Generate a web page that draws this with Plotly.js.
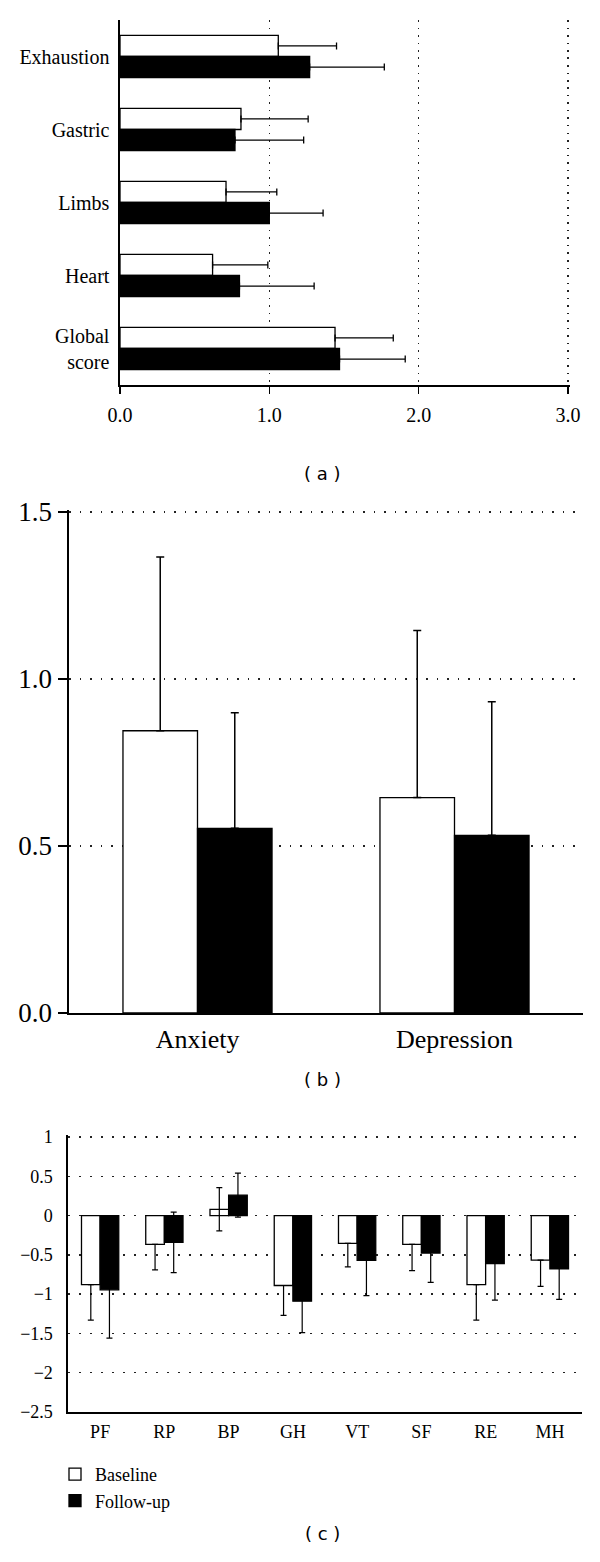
<!DOCTYPE html>
<html><head><meta charset="utf-8">
<script src="https://cdn.plot.ly/plotly-3.0.1.min.js"></script>
<style>html,body{margin:0;padding:0;background:#fff}</style>
</head><body><div id="chart" style="width:600px;height:1562px"></div>
<script>
// ---- Panel (a): somatic complaints (horizontal bars) ----
const somCategories = ['Exhaustion', 'Gastric', 'Limbs', 'Heart', 'Global<br>score'];
const somBaseline = [1.06, 0.81, 0.71, 0.62, 1.44];
const somBaselineErr = [0.39, 0.45, 0.34, 0.37, 0.39];
const somFollowup = [1.27, 0.77, 1.00, 0.80, 1.47];
const somFollowupErr = [0.50, 0.46, 0.36, 0.50, 0.44];
const somTicks = [0, 1, 2, 3];
const somTickText = ['0.0', '1.0', '2.0', '3.0'];

// ---- Panel (b): anxiety / depression ----
const hadsCategories = ['Anxiety', 'Depression'];
const hadsBaseline = [0.845, 0.645];
const hadsBaselineErr = [0.52, 0.50];
const hadsFollowup = [0.553, 0.532];
const hadsFollowupErr = [0.346, 0.40];

// ---- Panel (c): SF-36 domains ----
const sfCategories = ['PF', 'RP', 'BP', 'GH', 'VT', 'SF', 'RE', 'MH'];
const sfBaseline = [-0.88, -0.366, 0.08, -0.89, -0.353, -0.366, -0.88, -0.566];
const sfBaselineErr = [0.45, 0.324, 0.275, 0.38, 0.30, 0.334, 0.45, 0.334];
const sfFollowup = [-0.945, -0.34, 0.26, -1.09, -0.57, -0.477, -0.61, -0.677];
const sfFollowupErr = [0.615, 0.385, 0.28, 0.40, 0.45, 0.373, 0.467, 0.39];

const seriesNames = ['Baseline', 'Follow-up'];

const serif = '"Liberation Serif", "Times New Roman", serif';
const sans = '"DejaVu Sans", Verdana, sans-serif';
const zeros = n => new Array(n).fill(0);
const whiteMarker = {color: '#ffffff', line: {color: '#000', width: 1.3}};
const blackMarker = {color: '#000000', line: {color: '#000', width: 1.3}};

const traces = [
  // (a)
  {type: 'bar', orientation: 'h', y: somCategories, x: somBaseline, name: seriesNames[0],
   marker: whiteMarker, xaxis: 'x', yaxis: 'y', showlegend: false, hoverinfo: 'skip',
   error_x: {type: 'data', symmetric: false, array: somBaselineErr, arrayminus: zeros(5), color: '#000', thickness: 1.3, width: 3.5}},
  {type: 'bar', orientation: 'h', y: somCategories, x: somFollowup, name: seriesNames[1],
   marker: blackMarker, xaxis: 'x', yaxis: 'y', showlegend: false, hoverinfo: 'skip',
   error_x: {type: 'data', symmetric: false, array: somFollowupErr, arrayminus: zeros(5), color: '#000', thickness: 1.3, width: 3.5}},
  // (b)
  {type: 'bar', x: hadsCategories, y: hadsBaseline, name: seriesNames[0],
   marker: whiteMarker, xaxis: 'x2', yaxis: 'y2', showlegend: false, hoverinfo: 'skip',
   error_y: {type: 'data', symmetric: false, array: hadsBaselineErr, arrayminus: zeros(2), color: '#000', thickness: 1.5, width: 4}},
  {type: 'bar', x: hadsCategories, y: hadsFollowup, name: seriesNames[1],
   marker: blackMarker, xaxis: 'x2', yaxis: 'y2', showlegend: false, hoverinfo: 'skip',
   error_y: {type: 'data', symmetric: false, array: hadsFollowupErr, arrayminus: zeros(2), color: '#000', thickness: 1.5, width: 4}},
  // (c)
  {type: 'bar', x: sfCategories, y: sfBaseline, name: seriesNames[0],
   marker: whiteMarker, xaxis: 'x3', yaxis: 'y3', showlegend: true, hoverinfo: 'skip',
   error_y: {type: 'data', symmetric: false,
             array: sfBaselineErr.map((e, i) => sfBaseline[i] > 0 ? e : 0),
             arrayminus: sfBaselineErr, color: '#000', thickness: 1.2, width: 3}},
  {type: 'bar', x: sfCategories, y: sfFollowup, name: seriesNames[1],
   marker: blackMarker, xaxis: 'x3', yaxis: 'y3', showlegend: true, hoverinfo: 'skip',
   error_y: {type: 'data', symmetric: true, array: sfFollowupErr, color: '#000', thickness: 1.2, width: 3}}
];

const H = 1562, W = 600;
const py = p => 1 - p / H;
const px = p => p / W;
const grid = {showgrid: true, gridcolor: '#222', gridwidth: 1.4, zeroline: false};
const line = {showline: true, linecolor: '#000', linewidth: 1.6, fixedrange: true};

const layout = {
  width: W, height: H, margin: {l: 0, r: 0, t: 0, b: 0},
  paper_bgcolor: '#fff', plot_bgcolor: 'rgba(0,0,0,0)',
  barmode: 'group', bargap: 0.42, bargroupgap: 0,
  showlegend: true,
  legend: {x: px(55), y: py(1456), xanchor: 'left', yanchor: 'top',
           font: {family: serif, size: 18, color: '#000'}, bgcolor: 'rgba(0,0,0,0)',
           borderwidth: 0, traceorder: 'normal'},
  // (a)
  xaxis: Object.assign({}, line, grid, {domain: [px(120), px(570)], range: [0, 3.0135], anchor: 'y',
          tickvals: somTicks, ticktext: somTickText, ticks: 'outside', ticklen: 7, tickwidth: 1.5, tickcolor: '#000',
          griddash: '1.5px,6px', tickfont: {family: serif, size: 20, color: '#000'}, ticklabelstandoff: 4}),
  yaxis: Object.assign({}, line, {domain: [py(385), py(20)], type: 'category', range: [4.5, -0.5], anchor: 'x',
          ticks: '', showgrid: false, zeroline: false, tickfont: {family: serif, size: 20, color: '#000'}, ticklabelstandoff: 5}),
  // (b)
  xaxis2: Object.assign({}, line, {domain: [px(69), px(583)], type: 'category', range: [-0.5, 1.5], anchor: 'y2',
          ticks: '', showgrid: false, zeroline: false, tickfont: {family: serif, size: 26, color: '#000'}, ticklabelstandoff: 2}),
  yaxis2: Object.assign({}, line, grid, {domain: [py(1013), py(510)], range: [0, 1.506], anchor: 'x2',
          tickvals: [0, 0.5, 1, 1.5], tickformat: '.1f', ticks: 'outside', ticklen: 9, tickwidth: 1.5, tickcolor: '#000',
          griddash: '1.5px,9px', tickfont: {family: serif, size: 27, color: '#000'}, ticklabelstandoff: 1}),
  // (c)
  xaxis3: Object.assign({}, line, {domain: [px(68), px(582)], type: 'category', range: [-0.5, 7.5], anchor: 'y3',
          ticks: '', showgrid: false, zeroline: false, tickfont: {family: serif, size: 18, color: '#000'}, ticklabelstandoff: 3}),
  yaxis3: Object.assign({}, line, grid, {domain: [py(1412), py(1135)], range: [-2.5, 1.0255], anchor: 'x3',
          tickvals: [-2.5, -2, -1.5, -1, -0.5, 0, 0.5, 1], ticks: '', griddash: '1.5px,9.5px',
          tickfont: {family: serif, size: 18, color: '#000'}, ticklabelstandoff: 10}),
  annotations: [
    {text: '( a )', x: px(322), y: py(461), xref: 'paper', yref: 'paper', showarrow: false, font: {family: sans, size: 18, color: '#000'}},
    {text: '( b )', x: px(322), y: py(1092), xref: 'paper', yref: 'paper', showarrow: false, font: {family: sans, size: 18, color: '#000'}},
    {text: '( c )', x: px(322), y: py(1546), xref: 'paper', yref: 'paper', showarrow: false, font: {family: sans, size: 18, color: '#000'}}
  ]
};

Plotly.newPlot('chart', traces, layout, {staticPlot: true, displayModeBar: false});
</script>
</body></html>
